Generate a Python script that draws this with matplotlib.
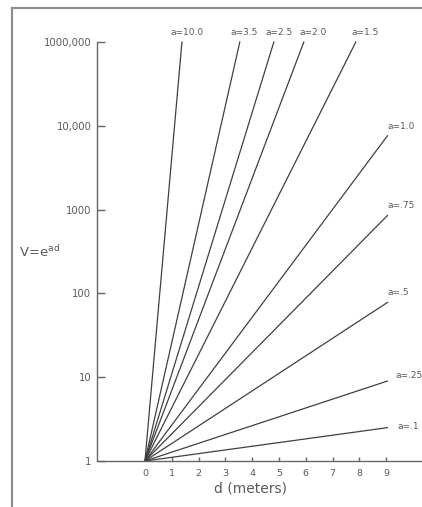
import numpy as np
import matplotlib
matplotlib.use('Agg')
import matplotlib.pyplot as plt
from matplotlib.lines import Line2D

# Garis V = e^(ad) : semua mulai dari (0, 1), titik akhir
a_labels = ['a=10.0', 'a=3.5', 'a=2.5', 'a=2.0', 'a=1.5',
            'a=1.0', 'a=.75', 'a=.5', 'a=.25', 'a=.1']
d_start = 0
v_start = 1
d_end = [1.38, 3.54, 4.81, 5.93, 7.87, 9.05, 9.05, 9.05, 9.05, 9.05]
v_end = [1e5, 1e5, 1e5, 1e5, 1e5, 7600, 850, 78, 9, 2.5]

# Sumbu
y_ticks = [1, 10, 100, 1000, 10000, 100000]
y_ticklabels = ['1', '10', '100', '1000', '10,000', '1000,000']
x_ticks = [0, 1, 2, 3, 4, 5, 6, 7, 8, 9]

# offset label (pixel) dan perataan
label_off = [(4, 7), (3, 7), (4, 7), (7, 7), (7, 7),
             (0, 7), (0, 7), (0, 7), (6, 4), (7, 1)]
label_ha = ['center'] * 5 + ['left'] * 5

W, H = 422, 507
fig = plt.figure(figsize=(W / 100, H / 100), dpi=100)
fig.patch.set_facecolor('white')

ax = fig.add_axes([97 / W, (H - 461) / H, (W - 97) / W, (461 - 42) / H])
ax.set_yscale('log')
ax.set_xlim(-1.79, 10.34)
ax.set_ylim(1, 1e5)

grey_line = '#404040'
grey_text = '#5a5a5a'

for i in range(len(a_labels)):
    ax.plot([d_start, d_end[i]], [v_start, v_end[i]], color=grey_line,
            lw=0.9, clip_on=False)
    ax.annotate(a_labels[i], (d_end[i], v_end[i]), xytext=label_off[i],
                textcoords='offset points', ha=label_ha[i], va='center',
                fontsize=6.5, color=grey_text, annotation_clip=False)

ax.spines['top'].set_visible(False)
ax.spines['right'].set_visible(False)
for s in ['left', 'bottom']:
    ax.spines[s].set_color('#666666')
    ax.spines[s].set_linewidth(1.0)

ax.set_yticks(y_ticks)
ax.set_yticklabels(y_ticklabels)
ax.yaxis.set_minor_locator(matplotlib.ticker.NullLocator())
ax.tick_params(axis='y', direction='in', length=6, width=1.0,
               colors='#666666', labelcolor=grey_text, labelsize=7.3, pad=4)

ax.set_xticks(x_ticks)
ax.tick_params(axis='x', direction='in', length=3, width=1.0,
               colors='#666666', labelcolor=grey_text, labelsize=6.8, pad=6)

# Label sumbu
fig.text(19 / W, 1 - 252 / H, r'V=e$^{\mathrm{ad}}$', fontsize=9.5,
         color=grey_text, ha='left', va='center')
fig.text(250 / W, 1 - 489 / H, 'd (meters)', fontsize=10,
         color=grey_text, ha='center', va='center')

# Bingkai halaman hasil scan
fig.add_artist(Line2D([12 / W, 12 / W], [0, 1 - 8 / H],
                      transform=fig.transFigure, color='#8a8a8a', lw=1.5))
fig.add_artist(Line2D([12 / W, 1], [1 - 8 / H, 1 - 8 / H],
                      transform=fig.transFigure, color='#8a8a8a', lw=1.5))

fig.savefig('out.png', dpi=100)
